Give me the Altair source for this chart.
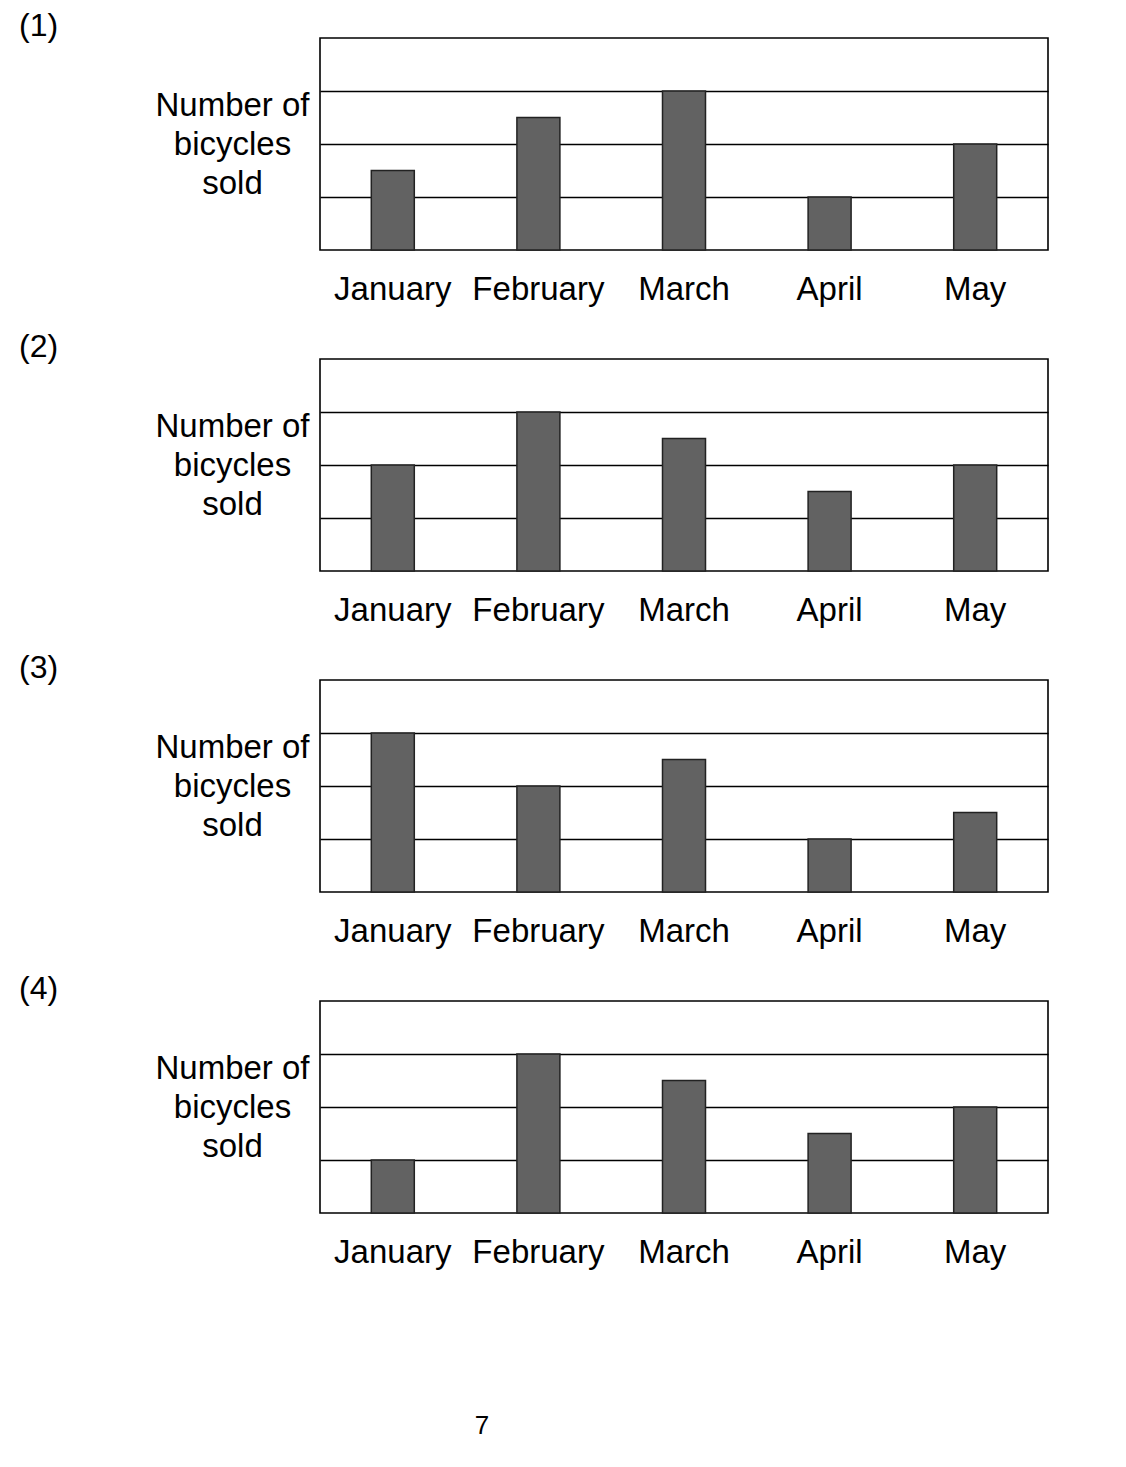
import altair as alt
import pandas as pd

months = ["January", "February", "March", "April", "May"]
panel_labels = ["(1)", "(2)", "(3)", "(4)"]
values_1 = [1.5, 2.5, 3, 1, 2]
values_2 = [2, 3, 2.5, 1.5, 2]
values_3 = [3, 2, 2.5, 1, 1.5]
values_4 = [1, 3, 2.5, 1.5, 2]
all_values = [values_1, values_2, values_3, values_4]
y_title = ["Number of", "bicycles", "sold"]
page_number = "7"

FONT = "Liberation Sans"


def panel(vals, label, last=False):
    df = pd.DataFrame({"month": months, "count": vals})
    base = alt.Chart(df)
    bars = base.mark_bar(size=43, color="#626262", stroke="#222222", strokeWidth=1.5).encode(
        x=alt.X("month:N", sort=months,
                scale=alt.Scale(paddingInner=0, paddingOuter=0),
                axis=alt.Axis(title=None, labelAngle=0, ticks=False, domain=False,
                              labelFont=FONT, labelFontSize=33, labelColor="black",
                              labelPadding=23)),
        y=alt.Y("count:Q", scale=alt.Scale(domain=[0, 4], nice=False),
                axis=alt.Axis(title=y_title, titleAngle=0, titleAlign="center",
                              titleBaseline="middle", titleX=-88, titleY=67,
                              titleFont=FONT, titleFontSize=33, titleFontWeight="normal",
                              titleColor="black", titleLineHeight=39,
                              labels=False, ticks=False, domain=False,
                              values=[1, 2, 3], grid=True, gridColor="black",
                              gridWidth=1.6, gridOpacity=1)),
    )
    lab_df = pd.DataFrame({"t": [label]})
    lab = alt.Chart(lab_df).mark_text(font=FONT, fontSize=32, align="left",
                                      baseline="middle", color="black").encode(
        text="t:N", x=alt.value(-301), y=alt.value(-12))
    layers = [bars, lab]
    if last:
        pn = alt.Chart(pd.DataFrame({"t": [page_number]})).mark_text(
            font=FONT, fontSize=26, align="center", baseline="middle", color="black"
        ).encode(text="t:N", x=alt.value(162), y=alt.value(425))
        layers.append(pn)
    return alt.layer(*layers).properties(width=728, height=212)


panels = [panel(v, l, i == 3) for i, (v, l) in enumerate(zip(all_values, panel_labels))]

chart = alt.vconcat(*panels, spacing=23).properties(
    padding={"left": 10, "top": 1, "right": 5, "bottom": 5},
    background="white",
).configure_view(stroke="black", strokeWidth=1.6)

chart.save("out.html", embed_options={"renderer": "svg", "actions": False})
